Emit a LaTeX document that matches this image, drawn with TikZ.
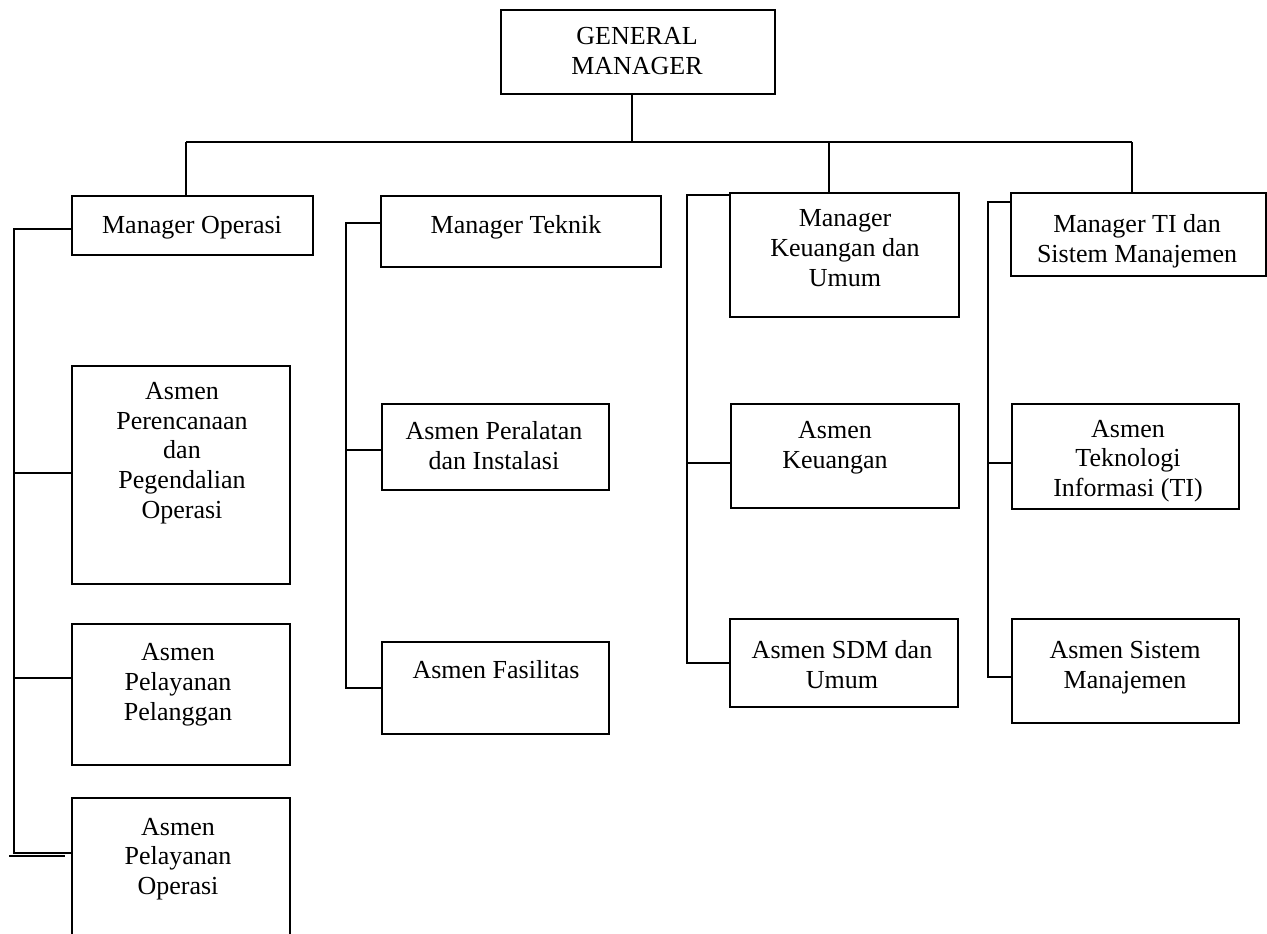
\documentclass[tikz,border=0pt]{standalone}
\usepackage{fontspec}
\setmainfont{Liberation Serif}

\begin{document}
\begin{tikzpicture}
[x=1pt,y=-1pt,line width=2pt,
every node/.style={align=center,font=\fontsize{26}{29.8}\selectfont},
box/.style={draw,anchor=north west,inner sep=0pt},
]
\useasboundingbox (0,0) rectangle (1267,934);
\clip (0,0) rectangle (1267,934);

\node[box,minimum width=274pt,minimum height=84pt] (gm) at (500,9) {};
\node (gmT) at (637,51) {GENERAL\\MANAGER};

\node[box,minimum width=241pt,minimum height=59pt] (mop) at (71,195) {};
\node (mopT) at (192,228) {Manager Operasi};
\node[box,minimum width=218pt,minimum height=218pt] (per) at (71,365) {};
\node (perT) at (182,453) {Asmen\\Perencanaan\\dan\\Pegendalian\\Operasi};
\node[box,minimum width=218pt,minimum height=141pt] (pgn) at (71,623) {};
\node (pgnT) at (178,685) {Asmen\\Pelayanan\\Pelanggan};
\node[box,minimum width=218pt,minimum height=170pt] (pos) at (71,797) {};
\node (posT) at (178,859) {Asmen\\Pelayanan\\Operasi};

\node[box,minimum width=280pt,minimum height=71pt] (mtk) at (380,195) {};
\node (mtkT) at (516,227) {Manager Teknik};
\node[box,minimum width=227pt,minimum height=86pt] (pal) at (381,403) {};
\node (palT) at (494,446) {Asmen Peralatan\\dan Instalasi};
\node[box,minimum width=227pt,minimum height=92pt] (fas) at (381,641) {};
\node (fasT) at (496,670) {Asmen Fasilitas};

\node[box,minimum width=229pt,minimum height=124pt] (mku) at (729,192) {};
\node (mkuT) at (845,248) {Manager\\Keuangan dan\\Umum};
\node[box,minimum width=228pt,minimum height=104pt] (aku) at (730,403) {};
\node (akuT) at (835,448) {Asmen\\Keuangan};
\node[box,minimum width=228pt,minimum height=88pt] (sdm) at (729,618) {};
\node (sdmT) at (842,665) {Asmen SDM dan\\Umum};

\node[box,minimum width=255pt,minimum height=83pt] (mti) at (1010,192) {};
\node (mtiT) at (1137,241) {Manager TI dan\\Sistem Manajemen};
\node[box,minimum width=227pt,minimum height=105pt] (tek) at (1011,403) {};
\node (tekT) at (1128,461) {Asmen\\Teknologi\\Informasi (TI)};
\node[box,minimum width=227pt,minimum height=104pt] (sis) at (1011,618) {};
\node (sisT) at (1125,668) {Asmen Sistem\\Manajemen};

\coordinate (busL) at (186,142);
\coordinate (busK) at (829,142);
\coordinate (busR) at (1132,142);
\draw ([xshift=-6pt]gm.south) -- ([xshift=-6pt]gm.south |- busL);
\draw (busL) -- (busR);
\draw (busL) -- (busL |- mop.north);
\draw (busK) -- (busK |- mku.north);
\draw (busR) -- (busR |- mti.north);

\coordinate (spO) at (14,853);
\draw ([yshift=-3.5pt]mop.west) -| (spO) -- (spO -| pos.west);
\draw ([shift={(-5pt,-3pt)}]spO) -- ++(56,0);
\draw ([yshift=2pt]per.west) -- ([yshift=2pt]per.west -| spO);
\draw ([yshift=16.5pt]pgn.west) -- ([yshift=16.5pt]pgn.west -| spO);

\coordinate (spT) at (346,688);
\draw ([yshift=8.5pt]mtk.west) -| (spT) -- (spT -| fas.west);
\draw ([yshift=-3pt]pal.west) -- ([yshift=-3pt]pal.west -| spT);

\coordinate (spK) at (687,663);
\draw ([yshift=-3pt]mku.north west) -| (spK) -- (spK -| sdm.west);
\draw ([yshift=-7pt]aku.west) -- ([yshift=-7pt]aku.west -| spK);

\coordinate (spI) at (988,677);
\draw ([yshift=-10pt]mti.north west) -| (spI) -- (spI -| sis.west);
\draw ([yshift=-6.5pt]tek.west) -- ([yshift=-6.5pt]tek.west -| spI);
\end{tikzpicture}
\end{document}
